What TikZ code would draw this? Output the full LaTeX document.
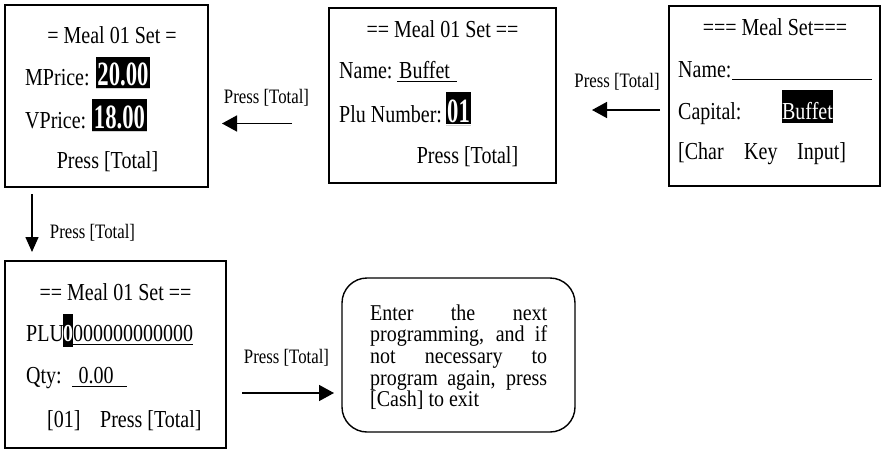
\documentclass[tikz,border=0pt]{standalone}
\usepackage{fontspec}
\setmainfont{Liberation Serif}
\usetikzlibrary{arrows.meta}
\newcommand{\vstr}[1]{\scalebox{1}[1.22]{#1}}
\newcommand{\rstr}[1]{\scalebox{1}[1.13]{#1}}
\newcommand{\nstr}[1]{\scalebox{1}[1.5]{#1}}
\begin{document}
\begin{tikzpicture}[x=1pt,y=-1pt,
  scr/.style={draw, line width=1.4pt, inner sep=0pt},
  hl/.style={fill=black, inner sep=0pt},
  bt/.style={font=\fontsize{20}{24}\selectfont, inner sep=0pt},
  lbl/.style={font=\fontsize{16.8}{20}\selectfont, inner sep=0pt, anchor=base},
  num/.style={font=\fontsize{22.7}{26}\selectfont\bfseries, text=white, inner sep=0pt, anchor=base},
  ul/.style={line width=0.8pt},
  gl/.style={line width=0.8pt, gray!35},
  arr/.style={line width=1.5pt, -{Triangle[length=15pt,width=16pt]}},
  varr/.style={line width=1.5pt, -{Triangle[length=15pt,width=13pt]}}]
\useasboundingbox (0,0) rectangle (882,450);

% ---- Screen 1 ----
\node[scr, minimum width=203pt, minimum height=182pt] (s1) at (106.5,96) {};
\node[bt, anchor=base] (t1) at (112,43) {\vstr{= Meal 01 Set =}};
\node[bt, anchor=base west] (m1) at (25,85) {\vstr{MPrice:}};
\node[hl, minimum width=54pt, minimum height=31pt] (h1) at (123,72.5) {};
\node[num] (n1) at (123,85) {\nstr{20.00}};
\draw[gl] (96,88.5) -- (150,88.5);
\node[bt, anchor=base west] (v1) at (25,128) {\vstr{VPrice:}};
\node[hl, minimum width=55pt, minimum height=32pt] (h2) at (119.5,115) {};
\node[num] (n2) at (119.5,128) {\nstr{18.00}};
\draw[gl] (92,131.5) -- (147,131.5);
\node[bt, anchor=base] (p1) at (107.5,168) {\vstr{Press [Total]}};

% ---- Screen 2 ----
\node[scr, minimum width=227pt, minimum height=175pt] (s2) at (442.5,95.5) {};
\node[bt, anchor=base] (t2) at (442.5,37) {\vstr{== Meal 01 Set ==}};
\node[bt, anchor=base west] (nm2) at (339,78) {\vstr{Name: Buffet}};
\draw[ul] (397,81) -- (457,81);
\node[bt, anchor=base west] (pl2) at (339,122) {\vstr{Plu Number:}};
\node[hl, minimum width=25pt, minimum height=32pt] (h3) at (458.5,108) {};
\node[num] (n3) at (458.5,122) {\nstr{01}};
\draw[gl] (446,125.5) -- (471,125.5);
\node[bt, anchor=base] (p2) at (467.5,163) {\vstr{Press [Total]}};

% ---- Screen 3 ----
\node[scr, minimum width=211pt, minimum height=180pt] (s3) at (774.5,96) {};
\node[bt, anchor=base] (t3) at (775,35) {\vstr{=== Meal Set===}};
\node[bt, anchor=base west] (nm3) at (678,77) {\vstr{Name:}};
\draw[ul] (732,79) -- (872,79);
\node[bt, anchor=base west] (c3) at (678,119) {\vstr{Capital:}};
\node[hl, minimum width=51pt, minimum height=33pt] (h4) at (807.5,106.5) {};
\node[bt, anchor=base, text=white] (b3) at (807.5,119) {\vstr{Buffet}};
\node[bt, anchor=base west] (k1) at (678,159) {\vstr{[Char}};
\node[bt, anchor=base west] (k2) at (744,159) {\vstr{Key}};
\node[bt, anchor=base west] (k3) at (797,159) {\vstr{Input]}};

% ---- Screen 4 ----
\node[scr, minimum width=221pt, minimum height=187pt] (s4) at (115.5,354.5) {};
\node[bt, anchor=base] (t4) at (115.5,300) {\vstr{== Meal 01 Set ==}};
\node[bt, anchor=base west] (plu) at (26,341) {\vstr{PLU}};
\node[hl, minimum width=10pt, minimum height=33pt] (h5) at (68,330.5) {};
\node[bt, anchor=base, text=white, font=\fontsize{20}{24}\selectfont\bfseries] (z0) at (68,341) {\vstr{0}};
\node[bt, anchor=base west] (zs) at (73,341) {\vstr{000000000000}};
\draw[ul] (63,344) -- (193,344);
\node[bt, anchor=base west] (q4) at (26,383) {\vstr{Qty:}};
\node[bt, anchor=base] (q0) at (96,383) {\vstr{0.00}};
\draw[ul] (72,386) -- (127,386);
\node[bt, anchor=base west] (c01) at (47,427) {\vstr{[01]}};
\node[bt, anchor=base west] (p4) at (100,427) {\vstr{Press [Total]}};

% ---- Final rounded box ----
\node[draw, line width=1.4pt, rounded corners=25pt, minimum width=233pt, minimum height=154pt, inner sep=0pt] (fin) at (458.5,355) {};
\node[inner sep=0pt, anchor=base west] (ft) at (370,320) {\parbox[t]{177pt}{\fontsize{20}{21.7}\selectfont
\rstr{\makebox[177pt][s]{Enter the next}}\\
\rstr{\makebox[177pt][s]{programming, and if}}\\
\rstr{\makebox[177pt][s]{not necessary to}}\\
\rstr{\makebox[177pt][s]{program again, press}}\\
\rstr{[Cash] to exit}}};

% ---- Arrows ----
\coordinate (a1s) at (292,123.5);
\coordinate (a1e) at (222,123.5);
\draw[arr] (a1s) -- (a1e);
\node[lbl] (l1) at (266.5,103) {\vstr{Press [Total]}};

\coordinate (a2s) at (660,110);
\coordinate (a2e) at (592,110);
\draw[arr] (a2s) -- (a2e);
\node[lbl] (l2) at (617,87) {\vstr{Press [Total]}};

\coordinate (a3s) at (32,194);
\coordinate (a3e) at (32,252);
\draw[varr] (a3s) -- (a3e);
\node[lbl] (l3) at (92.5,238) {\vstr{Press [Total]}};

\coordinate (a4s) at (242,393);
\coordinate (a4e) at (334,393);
\draw[arr] (a4s) -- (a4e);
\node[lbl] (l4) at (286.5,363) {\vstr{Press [Total]}};
\end{tikzpicture}
\end{document}
